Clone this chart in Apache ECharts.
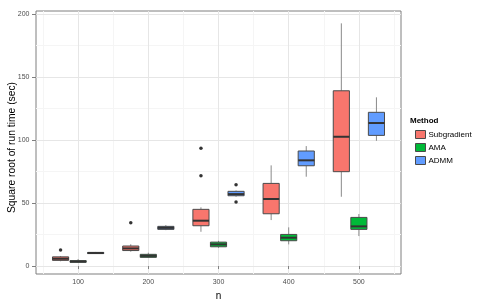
<!DOCTYPE html>
<html><head><meta charset="utf-8">
<script src="https://cdn.jsdelivr.net/npm/echarts@6/dist/echarts.min.js"></script>
<style>html,body{margin:0;padding:0;background:#fff}#c{width:489px;height:303px}</style>
</head><body><div id="c"></div>
<script>
// Data: [min, q1, median, q3, max] per n
const nValues = [100, 200, 300, 400, 500];
const methods = ['Subgradient', 'AMA', 'ADMM'];
const subgradient = [
  [3.8, 4.5, 5.8, 7.3, 8.0],
  [11.4, 12.3, 14.0, 15.9, 17.3],
  [27.2, 32.0, 36.0, 45.0, 46.6],
  [36.5, 41.5, 53.2, 65.6, 79.9],
  [55.0, 74.9, 102.6, 139.1, 192.6]
];
const ama = [
  [2.6, 3.0, 3.6, 4.3, 5.6],
  [6.5, 6.9, 8.1, 9.3, 10.6],
  [14.5, 15.3, 17.2, 19.0, 20.0],
  [17.2, 20.1, 22.5, 25.1, 30.7],
  [23.8, 29.1, 31.5, 38.6, 41.3]
];
const admm = [
  [9.6, 9.9, 10.4, 10.8, 11.2],
  [28.5, 29.1, 30.3, 31.5, 32.5],
  [55.0, 55.8, 57.1, 59.3, 60.0],
  [70.9, 79.6, 83.9, 91.3, 95.2],
  [99.4, 103.7, 113.5, 122.0, 133.9]
];
// outliers: [n, value]
const subgradientOutliers = [[100, 12.7], [200, 34.4], [300, 71.7], [300, 93.4]];
const amaOutliers = [];
const admmOutliers = [[300, 64.5], [300, 50.8]];
const xTicks = [100, 200, 300, 400, 500];
const xMinor = [50, 150, 250, 350, 450, 550];
const yTicks = [0, 50, 100, 150, 200];
const yMinor = [25, 75, 125, 175];
const xTitle = 'n';
const yTitle = 'Square root of run time (sec)';
const legendTitle = 'Method';

const colors = ['#F8766D', '#00BA38', '#619CFF'];
const boxSets = [subgradient, ama, admm];
const outSets = [subgradientOutliers, amaOutliers, admmOutliers];
const dodge = [-25, 0, 25];

function renderBox(params, api) {
  const x = api.value(0);
  const lo = api.coord([x, api.value(1)]);
  const q1 = api.coord([x, api.value(2)]);
  const md = api.coord([x, api.value(3)]);
  const q3 = api.coord([x, api.value(4)]);
  const hi = api.coord([x, api.value(5)]);
  const w = api.size([25, 0])[0] * 0.92;
  const cx = q1[0];
  const fill = api.visual('color');
  return {
    type: 'group',
    children: [
      {type: 'line', shape: {x1: cx, y1: q3[1], x2: cx, y2: hi[1]}, style: {stroke: '#8a8a8a', lineWidth: 1}},
      {type: 'line', shape: {x1: cx, y1: q1[1], x2: cx, y2: lo[1]}, style: {stroke: '#8a8a8a', lineWidth: 1}},
      {type: 'rect', shape: {x: cx - w / 2, y: q3[1], width: w, height: q1[1] - q3[1]},
        style: {fill: fill, stroke: '#4a4a4a', lineWidth: 1}},
      {type: 'line', shape: {x1: cx - w / 2, y1: md[1], x2: cx + w / 2, y2: md[1]}, style: {stroke: '#333333', lineWidth: 2}}
    ]
  };
}

const series = [];
// gridlines
series.push({
  type: 'scatter', data: [], silent: true, z: 0,
  markLine: {
    z: 0, zlevel: 0,
    silent: true, symbol: 'none', animation: false, label: {show: false},
    data: [].concat(
      xMinor.map(v => ({xAxis: v, lineStyle: {color: '#f5f5f5', width: 1, type: 'solid'}})),
      yMinor.map(v => ({yAxis: v, lineStyle: {color: '#f5f5f5', width: 1, type: 'solid'}})),
      xTicks.map(v => ({xAxis: v, lineStyle: {color: '#e6e6e6', width: 1, type: 'solid'}})),
      yTicks.map(v => ({yAxis: v, lineStyle: {color: '#e6e6e6', width: 1, type: 'solid'}}))
    )
  }
});
methods.forEach((m, k) => {
  series.push({
    name: m, type: 'custom', renderItem: renderBox, z: 6,
    itemStyle: {color: colors[k], borderColor: '#4a4a4a', borderWidth: 1},
    encode: {x: 0, y: [1, 2, 3, 4, 5]},
    data: boxSets[k].map((b, i) => [nValues[i] + dodge[k]].concat(b))
  });
  series.push({
    type: 'scatter', z: 7, symbolSize: 3.5, itemStyle: {color: '#000'},
    data: outSets[k].map(p => [p[0] + dodge[k], p[1]])
  });
});

const chart = echarts.init(document.getElementById('c'), null, {renderer: 'canvas'});
chart.setOption({
  animation: false,
  backgroundColor: '#fff',
  grid: {left: 36, top: 11, right: 88, bottom: 29, show: true, borderColor: '#7f7f7f', borderWidth: 1, backgroundColor: '#fff',
    containLabel: false, outerBoundsMode: 'none'},
  xAxis: {
    type: 'value', min: 40, max: 560, name: xTitle, nameLocation: 'middle', nameGap: 16,
    nameTextStyle: {fontFamily: 'Liberation Sans', fontSize: 10, color: '#000'},
    axisLine: {show: false}, splitLine: {show: false},
    axisTick: {show: true, length: 3, lineStyle: {color: '#7f7f7f'}, customValues: xTicks},
    axisLabel: {customValues: xTicks, fontFamily: 'Liberation Sans', fontSize: 7, color: '#4d4d4d', margin: 5}
  },
  yAxis: {
    type: 'value', min: -6.3, max: 202.4,
    axisLine: {show: false}, splitLine: {show: false},
    axisTick: {show: true, length: 4, lineStyle: {color: '#7f7f7f'}, customValues: yTicks},
    axisLabel: {customValues: yTicks, fontFamily: 'Liberation Sans', fontSize: 7, color: '#4d4d4d', margin: 6.5}
  },
  legend: {
    data: methods, orient: 'vertical', left: 410, top: 125, itemGap: 4,
    icon: 'rect', itemWidth: 10, itemHeight: 8,
    itemStyle: {borderColor: '#4a4a4a', borderWidth: 1},
    textStyle: {fontFamily: 'Liberation Sans', fontSize: 8, color: '#000', padding: [0, 0, 0, -2]}
  },
  graphic: [{
    type: 'text', left: 410, top: 117,
    style: {text: legendTitle, font: 'bold 8px "Liberation Sans"', fill: '#000'}
  }, {
    type: 'text', x: 12.5, y: 147.5, rotation: Math.PI / 2,
    style: {text: yTitle, font: '10.3px "Liberation Sans"', fill: '#000', textAlign: 'center', textVerticalAlign: 'middle'}
  }],
  series: series
});
</script>
</body></html>
